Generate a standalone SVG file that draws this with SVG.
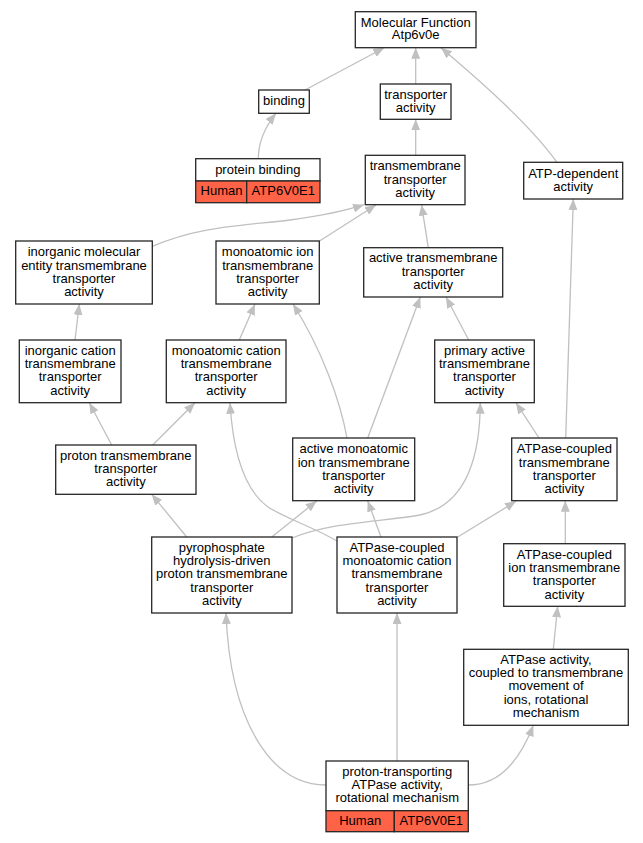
<svg xmlns="http://www.w3.org/2000/svg" width="643" height="843" viewBox="0 0 643 843">
<defs>
<marker id="ah" viewBox="0 0 11 9" refX="11" refY="4.5" markerWidth="11" markerHeight="9" markerUnits="userSpaceOnUse" orient="auto">
<path d="M0,0 L11,4.5 L0,9 z" fill="#c0c0c0"/>
</marker>
<style>
.box{fill:#ffffff;stroke:#262626;stroke-width:1.3}
.cell{fill:#ff6347;stroke:#262626;stroke-width:1.3}
.e{fill:none;stroke:#c0c0c0;stroke-width:1.3;marker-end:url(#ah)}
text{font-family:"Liberation Sans",Arial,sans-serif;font-size:13px;fill:#000;text-anchor:middle}
</style>
</defs>
<rect width="643" height="843" fill="#ffffff"/>
<g id="edges">
<path class="e" d="M258.3,158.5 C258.5,143 264,128 276,113.3"/>
<path class="e" d="M305,90 L384.3,47.7"/>
<path class="e" d="M415.7,84 L415.7,47.7"/>
<path class="e" d="M557,162.3 C530,125 485,85 441,47.7"/>
<path class="e" d="M415.7,155.3 L415.7,119.3"/>
<path class="e" d="M152.3,246.3 C200,226 240,226 290,220 C320,216 345,211 364,204.7"/>
<path class="e" d="M319.5,241 L376,205"/>
<path class="e" d="M428.3,247.7 L421.5,204.7"/>
<path class="e" d="M75,340 L79.3,304"/>
<path class="e" d="M239.3,340 L255,304"/>
<path class="e" d="M468.7,340 L446,297"/>
<path class="e" d="M367.7,438 L420.3,297"/>
<path class="e" d="M347,438 C340,400 322,350 293,304"/>
<path class="e" d="M539,438 L516,402.7"/>
<path class="e" d="M565.7,438 L573.3,199"/>
<path class="e" d="M111.7,445 L89.3,402.7"/>
<path class="e" d="M152.7,445 L195,402.7"/>
<path class="e" d="M186.7,537 L151.7,494.3"/>
<path class="e" d="M271.7,537 L316.7,501"/>
<path class="e" d="M292,538 C330,522 380,522 420,515 C465,505 480,460 480.3,402.7"/>
<path class="e" d="M337,541 C313,527 285,518 268,507 C245,490 233,455 230,402.7"/>
<path class="e" d="M381,537 L367.7,500.7"/>
<path class="e" d="M457.7,537 L516,501.3"/>
<path class="e" d="M565.3,543.7 L565.3,500.7"/>
<path class="e" d="M553.3,649 L557.7,606.3"/>
<path class="e" d="M326,785 C270,785 230,720 226,613"/>
<path class="e" d="M397,761 L397,613"/>
<path class="e" d="M468.3,785 C500,785 520,760 533.3,725.3"/>
</g>
<g id="n_mf">
<rect class="box" x="355.3" y="11.7" width="120.7" height="36"/>
<text x="415.7" y="26.5">Molecular Function</text>
<text x="415.7" y="39.2">Atp6v0e</text>
</g>
<g id="n_binding">
<rect class="box" x="258.7" y="90" width="50.6" height="23.3"/>
<text x="284" y="105.2">binding</text>
</g>
<g id="n_ta">
<rect class="box" x="380.3" y="84" width="70.7" height="35.3"/>
<text x="415.7" y="98.8">transporter</text>
<text x="415.7" y="111.5">activity</text>
</g>
<g id="n_pb">
<rect class="box" x="195.7" y="158.7" width="124.3" height="22.3"/>
<rect class="cell" x="195.7" y="181" width="51" height="21.7"/>
<rect class="cell" x="246.7" y="181" width="73.3" height="21.7"/>
<text x="257.8" y="173.5">protein binding</text>
<text x="221.5" y="195.2">Human</text>
<text x="283.3" y="195.2">ATP6V0E1</text>
</g>
<g id="n_tta">
<rect class="box" x="365.3" y="155.3" width="99.7" height="49.4"/>
<text x="415.2" y="170.2">transmembrane</text>
<text x="415.2" y="183.8">transporter</text>
<text x="415.2" y="197.2">activity</text>
</g>
<g id="n_atpdep">
<rect class="box" x="523.7" y="162.3" width="99" height="36.7"/>
<text x="573.2" y="177.5">ATP-dependent</text>
<text x="573.2" y="190.5">activity</text>
</g>
<g id="n_ime">
<rect class="box" x="15.7" y="241" width="136.6" height="63"/>
<text x="84" y="255.8">inorganic molecular</text>
<text x="84" y="269.5">entity transmembrane</text>
<text x="84" y="282.5">transporter</text>
<text x="84" y="295.8">activity</text>
</g>
<g id="n_mi">
<rect class="box" x="216" y="241" width="103.3" height="63"/>
<text x="267.7" y="255.8">monoatomic ion</text>
<text x="267.7" y="269.5">transmembrane</text>
<text x="267.7" y="282.5">transporter</text>
<text x="267.7" y="295.8">activity</text>
</g>
<g id="n_ata">
<rect class="box" x="363.7" y="247.7" width="139" height="49.3"/>
<text x="433.2" y="262.2">active transmembrane</text>
<text x="433.2" y="275.5">transporter</text>
<text x="433.2" y="288.8">activity</text>
</g>
<g id="n_ic">
<rect class="box" x="19.3" y="340" width="101.7" height="62.7"/>
<text x="70.2" y="354.5">inorganic cation</text>
<text x="70.2" y="367.8">transmembrane</text>
<text x="70.2" y="381.2">transporter</text>
<text x="70.2" y="394.5">activity</text>
</g>
<g id="n_mc">
<rect class="box" x="166.3" y="340" width="119.7" height="62.7"/>
<text x="226.2" y="354.5">monoatomic cation</text>
<text x="226.2" y="367.8">transmembrane</text>
<text x="226.2" y="381.2">transporter</text>
<text x="226.2" y="394.5">activity</text>
</g>
<g id="n_pa">
<rect class="box" x="434.7" y="340" width="99.6" height="62.7"/>
<text x="484.5" y="354.5">primary active</text>
<text x="484.5" y="367.8">transmembrane</text>
<text x="484.5" y="381.2">transporter</text>
<text x="484.5" y="394.5">activity</text>
</g>
<g id="n_proton">
<rect class="box" x="55.7" y="445" width="140.3" height="49.3"/>
<text x="125.8" y="459.5">proton transmembrane</text>
<text x="125.8" y="472.8">transporter</text>
<text x="125.8" y="486.2">activity</text>
</g>
<g id="n_ami">
<rect class="box" x="292.7" y="438" width="122" height="62.7"/>
<text x="353.7" y="453.2">active monoatomic</text>
<text x="353.7" y="466.5">ion transmembrane</text>
<text x="353.7" y="479.8">transporter</text>
<text x="353.7" y="493.2">activity</text>
</g>
<g id="n_atc">
<rect class="box" x="511.7" y="438" width="105.3" height="62.7"/>
<text x="564.3" y="453.2">ATPase-coupled</text>
<text x="564.3" y="466.5">transmembrane</text>
<text x="564.3" y="479.8">transporter</text>
<text x="564.3" y="493.2">activity</text>
</g>
<g id="n_pyro">
<rect class="box" x="151.7" y="537" width="140.3" height="76"/>
<text x="221.8" y="551.5">pyrophosphate</text>
<text x="221.8" y="564.8">hydrolysis-driven</text>
<text x="221.8" y="578.2">proton transmembrane</text>
<text x="221.8" y="591.5">transporter</text>
<text x="221.8" y="604.8">activity</text>
</g>
<g id="n_amc">
<rect class="box" x="337" y="537" width="120" height="76"/>
<text x="397" y="551.5">ATPase-coupled</text>
<text x="397" y="564.8">monoatomic cation</text>
<text x="397" y="578.2">transmembrane</text>
<text x="397" y="591.5">transporter</text>
<text x="397" y="604.8">activity</text>
</g>
<g id="n_aci">
<rect class="box" x="503.7" y="543.7" width="121.3" height="62.6"/>
<text x="564.3" y="558.5">ATPase-coupled</text>
<text x="564.3" y="571.8">ion transmembrane</text>
<text x="564.3" y="585.2">transporter</text>
<text x="564.3" y="598.5">activity</text>
</g>
<g id="n_atpact">
<rect class="box" x="463.7" y="649.3" width="164.6" height="76"/>
<text x="546" y="663.5">ATPase activity,</text>
<text x="546" y="676.8">coupled to transmembrane</text>
<text x="546" y="690.2">movement of</text>
<text x="546" y="703.5">ions, rotational</text>
<text x="546" y="716.8">mechanism</text>
</g>
<g id="n_pta">
<rect class="box" x="326" y="761" width="142.3" height="49.7"/>
<rect class="cell" x="326" y="810.7" width="68.3" height="21"/>
<rect class="cell" x="394.3" y="810.7" width="74" height="21"/>
<text x="397.2" y="775.5">proton-transporting</text>
<text x="397.2" y="788.8">ATPase activity,</text>
<text x="397.2" y="802.2">rotational mechanism</text>
<text x="360.2" y="824.5">Human</text>
<text x="431.3" y="824.5">ATP6V0E1</text>
</g>
</svg>
